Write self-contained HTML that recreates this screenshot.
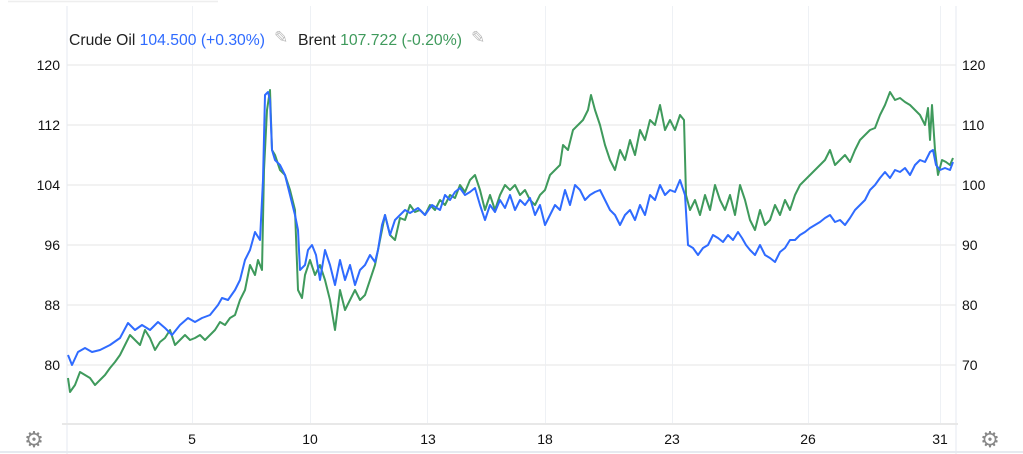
<!DOCTYPE html>
<html><head><meta charset="utf-8"><style>
html,body{margin:0;padding:0;background:#fff;width:1023px;height:454px;overflow:hidden;font-family:"Liberation Sans",sans-serif;}
</style></head><body>
<svg width="1023" height="454" viewBox="0 0 1023 454" xmlns="http://www.w3.org/2000/svg" font-family="Liberation Sans, sans-serif">
<line x1="8" y1="1.5" x2="218" y2="1.5" stroke="#eee" stroke-width="1.5"/>
<g stroke="#eef1f5" stroke-width="1">
<line x1="192.5" y1="6" x2="192.5" y2="424"/><line x1="310.5" y1="6" x2="310.5" y2="424"/>
<line x1="427.5" y1="6" x2="427.5" y2="424"/><line x1="545.5" y1="6" x2="545.5" y2="424"/>
<line x1="672.5" y1="6" x2="672.5" y2="424"/><line x1="808.5" y1="6" x2="808.5" y2="424"/>
<line x1="940.5" y1="6" x2="940.5" y2="424"/>
</g>
<g stroke="#eeeeee" stroke-width="1.5">
<line x1="67" y1="65" x2="956" y2="65"/><line x1="67" y1="125" x2="956" y2="125"/>
<line x1="67" y1="185" x2="956" y2="185"/><line x1="67" y1="245" x2="956" y2="245"/>
<line x1="67" y1="305" x2="956" y2="305"/><line x1="67" y1="365" x2="956" y2="365"/>
</g>
<line x1="67" y1="6" x2="67" y2="454" stroke="#e6eaf0"/>
<line x1="956" y1="6" x2="956" y2="454" stroke="#e6eaf0"/>
<line x1="62" y1="424" x2="958" y2="424" stroke="#e8e8e8" stroke-width="2"/>
<line x1="0" y1="452" x2="1023" y2="452" stroke="#e6eaf0" stroke-width="2"/>
<g font-size="14" fill="#111" text-anchor="end">
<text x="60" y="70">120</text><text x="60" y="130">112</text><text x="60" y="190">104</text>
<text x="60" y="250">96</text><text x="60" y="310">88</text><text x="60" y="370">80</text>
</g>
<g font-size="14" fill="#111">
<text x="962" y="70">120</text><text x="962" y="130">110</text><text x="962" y="190">100</text>
<text x="962" y="250">90</text><text x="962" y="310">80</text><text x="962" y="370">70</text>
</g>
<g font-size="14" fill="#111" text-anchor="middle">
<text x="192" y="444">5</text><text x="310" y="444">10</text><text x="428" y="444">13</text>
<text x="545" y="444">18</text><text x="672" y="444">23</text><text x="808" y="444">26</text><text x="940" y="444">31</text>
</g>
<g font-size="15.5">
<text x="69" y="45" fill="#222" textLength="196" lengthAdjust="spacingAndGlyphs">Crude Oil <tspan fill="#2f6bff">104.500 (+0.30%)</tspan></text>
<text x="298" y="45" fill="#222" textLength="164" lengthAdjust="spacingAndGlyphs">Brent <tspan fill="#3f9a5c">107.722 (-0.20%)</tspan></text>
<text x="274" y="43" fill="#bbb" font-size="17">✎</text>
<text x="471" y="43" fill="#bbb" font-size="17">✎</text>
</g>
<g font-size="22" fill="#888" text-anchor="middle"><text x="34" y="447">⚙</text><text x="990" y="447">⚙</text></g>
<polyline fill="none" stroke="#3f9a5c" stroke-width="2" stroke-linejoin="round" points="68,378 70,392 75,385 80,372 85,375 90,378 95,385 100,380 105,375 110,368 115,362 120,355 125,345 130,335 135,340 140,345 145,330 150,338 155,350 160,342 165,338 170,330 175,345 180,340 185,335 190,340 195,338 200,335 205,340 210,335 215,330 220,322 225,325 230,318 235,315 240,300 245,290 250,265 255,275 258,260 262,270 264,170 267,110 270,90 272,150 275,155 280,170 285,175 290,190 295,210 298,290 302,298 305,275 310,260 315,275 320,265 325,280 330,300 335,330 340,290 345,310 350,300 355,290 360,300 365,295 370,280 375,265 380,240 385,215 390,235 395,240 400,218 405,220 410,205 415,212 420,210 425,215 430,205 435,210 440,200 445,205 450,195 455,198 460,185 465,192 470,180 475,175 480,190 485,210 490,195 495,210 500,195 505,185 510,190 515,185 520,195 525,190 530,200 535,205 540,195 545,190 550,175 555,170 560,165 563,145 568,150 573,130 578,125 583,120 588,110 591,95 595,110 600,125 605,145 610,160 615,170 620,150 625,160 630,140 635,155 640,130 645,140 650,120 655,125 660,105 665,130 670,120 675,130 680,115 684,120 686,195 690,210 695,200 700,215 705,195 710,210 715,185 720,200 725,210 730,195 735,215 740,185 745,200 750,220 755,230 760,210 765,225 770,220 775,205 780,215 785,200 790,210 795,195 800,185 805,180 810,175 815,170 820,165 825,160 830,150 835,165 840,160 845,155 850,162 855,150 860,140 865,135 870,130 875,128 880,115 885,105 890,92 895,100 900,98 905,102 910,105 915,110 920,115 925,125 928,108 930,140 932,105 935,150 938,175 942,160 946,162 950,165 953,158"/>
<polyline fill="none" stroke="#2f6bff" stroke-width="2" stroke-linejoin="round" points="68,355 72,365 78,352 85,348 92,352 100,350 110,345 120,338 128,323 135,330 142,325 150,330 158,322 165,328 172,335 180,325 188,318 195,322 202,318 210,315 218,305 222,298 228,300 235,290 240,280 245,260 250,250 255,232 260,240 263,180 265,95 268,92 270,100 272,150 275,160 280,165 285,175 290,195 295,215 298,230 300,270 305,265 308,250 312,245 316,255 320,280 325,250 330,265 335,285 340,260 345,280 350,265 355,285 360,270 365,265 370,255 375,262 378,250 382,225 385,215 390,235 395,220 400,215 405,210 410,213 418,208 425,215 432,205 440,210 445,195 450,200 455,192 460,188 465,195 470,192 475,188 480,205 485,220 490,205 495,212 500,200 505,208 510,195 515,210 520,200 525,205 530,198 535,215 540,205 545,225 550,215 555,205 560,210 565,190 570,205 575,185 580,190 585,200 590,195 595,192 600,190 605,200 610,210 615,215 620,225 625,215 630,210 635,220 640,205 645,215 650,195 655,200 660,185 665,195 670,190 675,192 680,180 685,195 688,245 693,248 698,255 703,248 708,245 713,235 718,238 723,242 728,235 733,240 738,232 742,238 746,245 750,250 755,255 760,245 765,255 770,258 775,262 780,252 785,248 790,240 795,240 800,235 805,232 810,228 815,225 820,222 825,218 830,215 835,222 840,220 845,225 850,218 855,210 860,205 865,200 870,190 875,185 880,178 885,172 890,178 895,170 900,172 905,168 910,175 915,165 920,160 925,162 930,152 933,150 936,165 940,170 945,168 950,170 953,162"/>
</svg>
</body></html>
